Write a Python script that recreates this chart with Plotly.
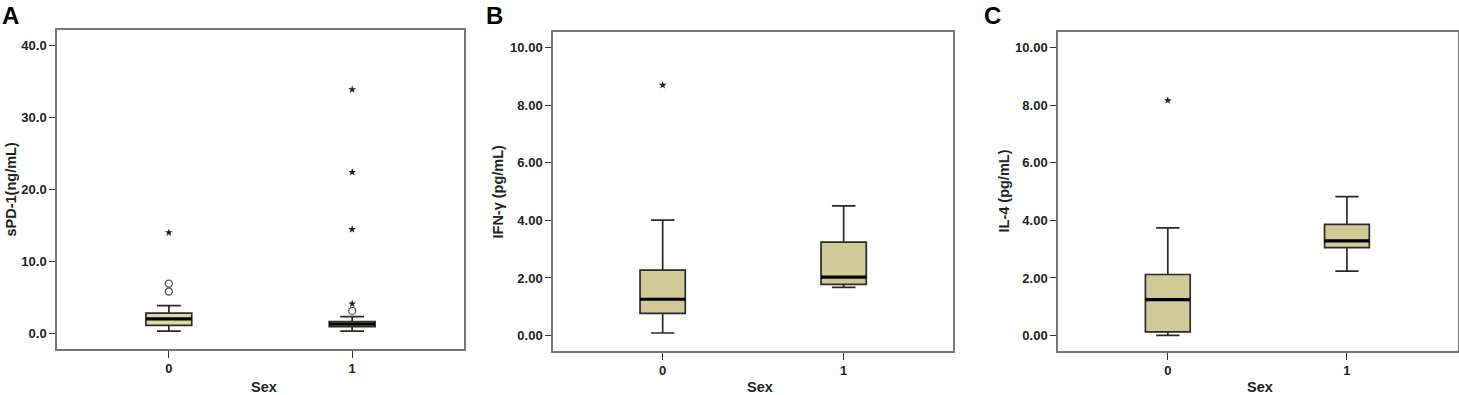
import plotly.graph_objects as go

W, H = 1459, 395

# ---------------- data ----------------
categories = ["0", "1"]
cat_pos = [0, 1]

# Panel A: sPD-1 (ng/mL)
a_q1 = [1.1, 0.9]
a_median = [2.0, 1.25]
a_q3 = [2.8, 1.6]
a_low = [0.3, 0.3]
a_high = [3.85, 2.3]
a_circle_x = ["0", "0", "1"]
a_circle_y = [6.9, 5.8, 3.1]
a_star_x = ["0", "1", "1", "1", "1"]
a_star_y = [14.0, 4.1, 14.45, 22.4, 33.9]
a_ticks = [0, 10, 20, 30, 40]
a_ticklabels = ["0.0", "10.0", "20.0", "30.0", "40.0"]

# Panel B: IFN-γ (pg/mL)
b_q1 = [0.77, 1.78]
b_median = [1.26, 2.03]
b_q3 = [2.27, 3.24]
b_low = [0.09, 1.67]
b_high = [4.01, 4.50]
b_star_x = ["0"]
b_star_y = [8.69]

# Panel C: IL-4 (pg/mL)
c_q1 = [0.13, 3.05]
c_median = [1.25, 3.29]
c_q3 = [2.12, 3.86]
c_low = [0.01, 2.24]
c_high = [3.74, 4.82]
c_star_x = ["0"]
c_star_y = [8.16]

bc_ticks = [0, 2, 4, 6, 8, 10]
bc_ticklabels = ["0.00", "2.00", "4.00", "6.00", "8.00", "10.00"]

# ---------------- style ----------------
FONT = "Liberation Sans, Arial, sans-serif"
FILL_A = "#DDD9A0"
FILL_BC = "#CFCA98"
BOX_W = 0.25

panels = [
    dict(px=(57, 464), py=(30, 349), yr=(-2.2, 42.2), xr=(-0.61, 1.61),
         q1=a_q1, med=a_median, q3=a_q3, lo=a_low, hi=a_high, fill=FILL_A,
         circ=(a_circle_x, a_circle_y), star=(a_star_x, a_star_y),
         ticks=a_ticks, labels=a_ticklabels, ytitle="sPD-1(ng/mL)",
         ytx=10, letter="A", lx=0, sexx=264),
    dict(px=(553, 953), py=(32, 351), yr=(-0.535, 10.535), xr=(-0.606, 1.604),
         q1=b_q1, med=b_median, q3=b_q3, lo=b_low, hi=b_high, fill=FILL_BC,
         circ=None, star=(b_star_x, b_star_y),
         ticks=bc_ticks, labels=bc_ticklabels, ytitle="IFN-γ (pg/mL)",
         ytx=498, letter="B", lx=484, sexx=760),
    dict(px=(1058, 1458), py=(32, 351), yr=(-0.535, 10.535), xr=(-0.613, 1.62),
         q1=c_q1, med=c_median, q3=c_q3, lo=c_low, hi=c_high, fill=FILL_BC,
         circ=None, star=(c_star_x, c_star_y),
         ticks=bc_ticks, labels=bc_ticklabels, ytitle="IL-4 (pg/mL)",
         ytx=1004, letter="C", lx=982, sexx=1260),
]


def fx(px):
    return px / W


def fy(py):
    return 1 - py / H


fig = go.Figure()
annotations = []
layout = {}

for i, p in enumerate(panels):
    n = "" if i == 0 else str(i + 1)
    xa, ya = "x" + n, "y" + n
    fig.add_trace(go.Box(
        x=cat_pos, q1=p["q1"], median=p["med"], q3=p["q3"],
        lowerfence=p["lo"], upperfence=p["hi"],
        boxpoints=False, width=BOX_W, whiskerwidth=0.52,
        fillcolor=p["fill"], line=dict(color="#2a2a2a", width=1.7),
        xaxis=xa, yaxis=ya, showlegend=False, hoverinfo="skip"))
    for ci in range(len(categories)):
        xc = cat_pos[ci]
        fig.add_trace(go.Scatter(
            x=[xc - BOX_W / 2, xc + BOX_W / 2], y=[p["med"][ci]] * 2,
            mode="lines", line=dict(color="black", width=3.2),
            xaxis=xa, yaxis=ya, showlegend=False, hoverinfo="skip"))
    if p["circ"]:
        cx, cy = p["circ"]
        fig.add_trace(go.Scatter(
            x=[cat_pos[categories.index(c)] for c in cx], y=cy, mode="markers",
            marker=dict(symbol="circle-open", size=7, color="#555",
                        line=dict(width=1.3, color="#555")),
            xaxis=xa, yaxis=ya, showlegend=False))
    sx, sy = p["star"]
    fig.add_trace(go.Scatter(
        x=[cat_pos[categories.index(c)] for c in sx], y=sy, mode="markers",
        marker=dict(symbol="star", size=6, color="#222"),
        xaxis=xa, yaxis=ya, showlegend=False))

    axis_common = dict(showline=True, mirror=True, linecolor="#777", linewidth=1.5,
                       showgrid=False, zeroline=False, ticks="outside",
                       tickcolor="#333", tickwidth=1.3,
                       tickfont=dict(family=FONT, size=13, color="#222", weight="bold"))
    layout["xaxis" + n] = dict(
        axis_common, domain=[fx(p["px"][0]), fx(p["px"][1])],
        anchor=ya, range=list(p["xr"]), tickmode="array",
        tickvals=cat_pos, ticktext=categories, ticklen=7)
    layout["yaxis" + n] = dict(
        axis_common, domain=[fy(p["py"][1]), fy(p["py"][0])],
        anchor=xa, range=list(p["yr"]), tickmode="array",
        tickvals=p["ticks"], ticktext=p["labels"], ticklen=6)

    annotations.append(dict(
        text="<b>" + p["ytitle"] + "</b>", textangle=-90,
        x=fx(p["ytx"]), y=fy((p["py"][0] + p["py"][1]) / 2),
        xref="paper", yref="paper", showarrow=False,
        xanchor="center", yanchor="middle",
        font=dict(family=FONT, size=14.5, color="#222")))
    annotations.append(dict(
        text="<b>Sex</b>", x=fx(p["sexx"]), y=fy(387),
        xref="paper", yref="paper", showarrow=False,
        xanchor="center", yanchor="middle",
        font=dict(family=FONT, size=14.5, color="#222")))
    annotations.append(dict(
        text="<b>" + p["letter"] + "</b>", x=fx(p["lx"]), y=fy(0),
        xref="paper", yref="paper", showarrow=False,
        xanchor="left", yanchor="top",
        font=dict(family=FONT, size=24, color="black")))

fig.update_layout(
    width=W, height=H, margin=dict(l=0, r=0, t=0, b=0),
    paper_bgcolor="white", plot_bgcolor="white",
    annotations=annotations, **layout)

# remove the default page margin so the figure sits at the window's corner
fig.write_html("out.html", config={"displayModeBar": False},
               post_script="document.body.style.margin='0';"
                           "document.body.style.overflow='hidden';")
